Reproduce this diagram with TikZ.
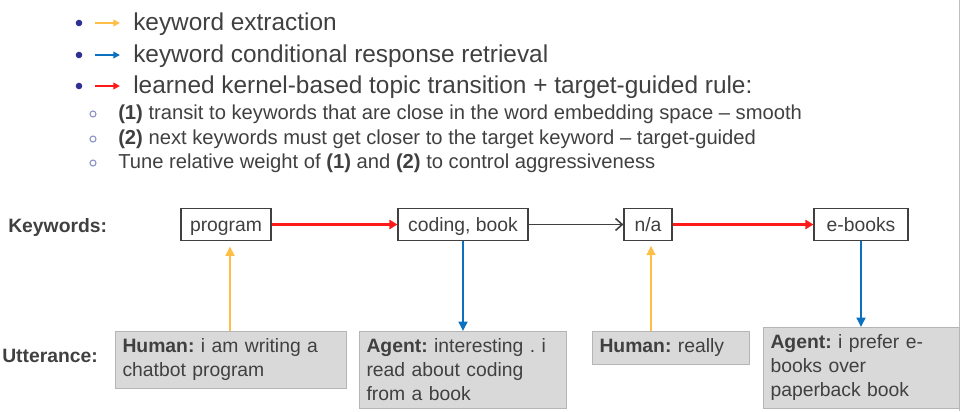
\documentclass[tikz,border=0pt]{standalone}
\usepackage{fontspec}
\setmainfont{Liberation Sans}
\usepackage{xcolor}
\usetikzlibrary{arrows.meta,positioning}

\definecolor{txt}{HTML}{404040}
\definecolor{dotblue}{HTML}{2E3192}
\definecolor{ringblue}{HTML}{8A90C8}
\definecolor{kwred}{HTML}{FF1A1A}
\definecolor{kworange}{HTML}{FFBE45}
\definecolor{kwblue}{HTML}{0A70C0}
\definecolor{uttfill}{HTML}{D9D9D9}
\definecolor{uttline}{HTML}{B5B5B5}

\begin{document}
\frenchspacing
\begin{tikzpicture}[x=0.75pt,y=-0.75pt,every node/.style={text=txt},
  big/.style={font=\fontsize{18.3}{21}\selectfont,anchor=base west,inner sep=0pt},
  sub/.style={font=\fontsize{15.15}{18}\selectfont,anchor=base west,inner sep=0pt},
  lbl/.style={font=\fontsize{14.5}{18}\selectfont\bfseries,anchor=base west,inner sep=0pt},
  kw/.style={draw=txt,line width=0.9pt,fill=white,font=\fontsize{14.5}{18}\selectfont,
    minimum height=24pt,inner sep=0pt,text height=10.5pt,text depth=0pt},
  utt/.style={draw=uttline,fill=uttfill,line width=0.75pt,font=\fontsize{14.5}{18}\selectfont\frenchspacing,
    align=left,anchor=north west,inner xsep=5.25pt,inner ysep=5.6pt},
  trans/.style={kwred,line width=2pt,-{Triangle[length=6pt,width=7pt]}},
  extr/.style={kworange,line width=1.9pt,-{Triangle[length=7pt,width=6.5pt]}},
  retr/.style={kwblue,line width=1.9pt,-{Triangle[length=7pt,width=6.5pt]}},
  nochg/.style={txt,line width=1.2pt,-{Straight Barb[length=5pt,width=9pt]}},
  leg/.style={line width=1.4pt,-{Triangle[length=5pt,width=5pt]}}]
  \useasboundingbox (0,0) rectangle (961,411);
  \draw[black!25,line width=1.2pt] (959.5,0) -- (959.5,411);

  \fill[dotblue] (79,23) circle[radius=3.3];
  \fill[dotblue] (79,55) circle[radius=3.3];
  \fill[dotblue] (79,86) circle[radius=3.3];
  \draw[leg,kworange] (95,23) -- (120,23);
  \draw[leg,kwblue] (95,55) -- (120,55);
  \draw[leg,kwred] (95,86) -- (120,86);
  \node[big] (b1) at (133,30) {keyword extraction};
  \node[big] (b2) at (133,62) {keyword conditional response retrieval};
  \node[big] (b3) at (133,93) {learned kernel-based topic transition + target-guided rule:};

  \draw[ringblue,line width=0.8pt] (93,114) circle[radius=3];
  \draw[ringblue,line width=0.8pt] (93,139) circle[radius=3];
  \draw[ringblue,line width=0.8pt] (93,163) circle[radius=3];
  \node[sub] (s1) at (118,119) {\textbf{(1)} transit to keywords that are close in the word embedding space -- smooth};
  \node[sub] (s2) at (118,144) {\textbf{(2)} next keywords must get closer to the target keyword -- target-guided};
  \node[sub] (s3) at (118,168) {Tune relative weight of \textbf{(1)} and \textbf{(2)} to control aggressiveness};

  \node[lbl] (kwl) at (8,232) {Keywords:};
  \node[lbl] (utl) at (2,362) {Utterance:};

  \node[kw,minimum width=67.5pt] (kw1) at (226,224.5) {program};
  \node[kw,minimum width=97.5pt] (kw2) at (463,224.5) {coding, book};
  \node[kw,minimum width=36pt] (kw3) at (648,224.5) {n/a};
  \node[kw,minimum width=70.5pt] (kw4) at (861,224.5) {e-books};

  \node[utt,text width=162.75pt] (hum1) at (115,331) {\textbf{Human:} i am writing a\\chatbot program};
  \node[utt,text width=144.75pt] (ag1) at (359,331) {\textbf{Agent:} interesting . i\\read about coding\\from a book};
  \node[utt,text width=107.25pt] (hum2) at (592,331) {\textbf{Human:} really};
  \node[utt,text width=136.5pt] (ag2) at (763,327) {\textbf{Agent:} i prefer e-\\books over\\paperback book};

  \draw[trans] (kw1) -- (kw2);
  \draw[nochg] (kw2) -- (kw3);
  \draw[trans] (kw3) -- (kw4);
  \draw[extr,shorten >=4pt] ([xshift=3pt]kw1.south |- hum1.north) -- ([xshift=3pt]kw1.south);
  \draw[extr,shorten >=3.5pt] ([xshift=2.25pt]kw3.south |- hum2.north) -- ([xshift=2.25pt]kw3.south);
  \draw[retr] (kw2) -- (kw2 |- ag1.north);
  \draw[retr] (kw4) -- (kw4 |- ag2.north);
\end{tikzpicture}
\end{document}
